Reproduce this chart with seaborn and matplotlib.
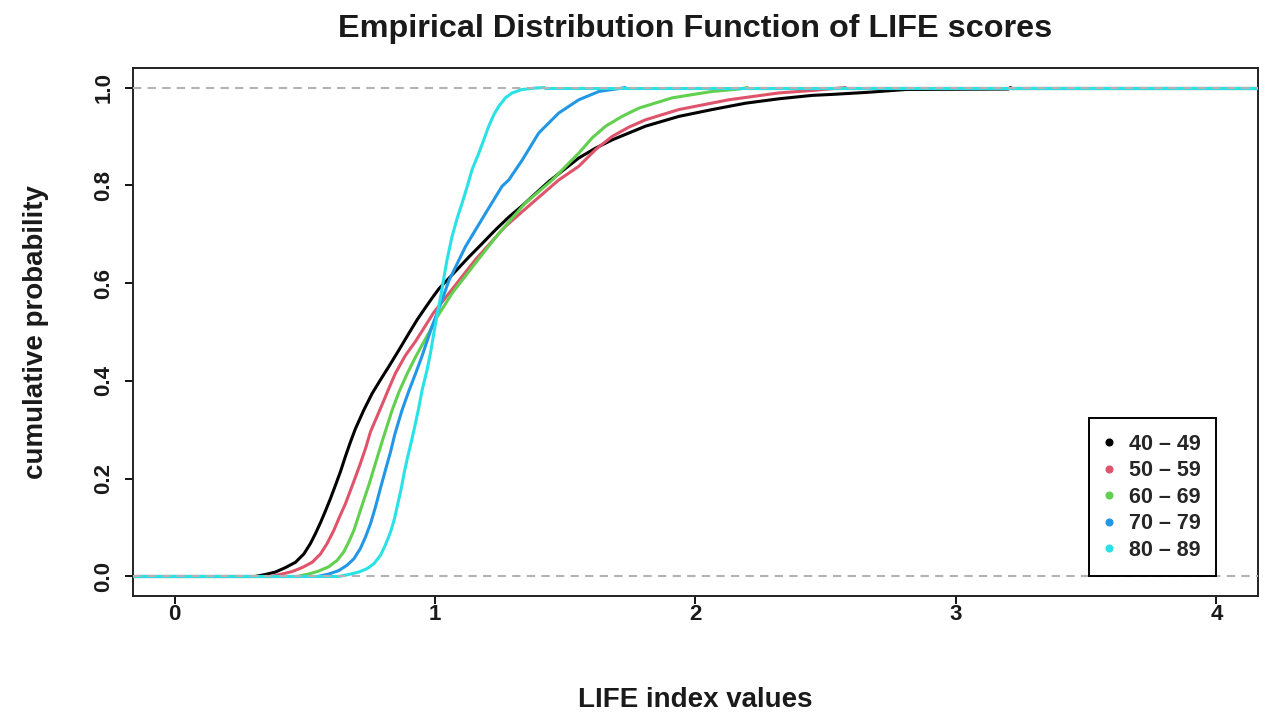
import matplotlib
matplotlib.use("Agg")
import numpy as np
import pandas as pd
import seaborn as sns
import matplotlib.pyplot as plt
from matplotlib.lines import Line2D

# Age groups and their colours
groups = ["40 – 49", "50 – 59", "60 – 69", "70 – 79", "80 – 89"]
colors = ["#000000", "#DF536B", "#61D04F", "#2297E6", "#28E2E5"]

# Empirical CDF of the LIFE index per age group: index value -> cumulative probability
x_40 = [0.31, 0.348, 0.387, 0.425, 0.464, 0.496, 0.521, 0.540, 0.560, 0.579, 0.598,
        0.617, 0.637, 0.656, 0.675, 0.694, 0.726, 0.758, 0.790, 0.822, 0.861, 0.899,
        0.931, 0.963, 0.988, 1.014, 1.078, 1.129, 1.181, 1.232, 1.283, 1.334, 1.373,
        1.437, 1.552, 1.616, 1.68, 1.744, 1.808, 1.872, 1.936, 2.064, 2.192, 2.32,
        2.448, 2.525, 2.654, 2.807, 3.20, 3.21]
p_40 = [0.0, 0.004, 0.009, 0.018, 0.029, 0.046, 0.067, 0.087, 0.110, 0.134, 0.159,
        0.186, 0.215, 0.246, 0.275, 0.302, 0.340, 0.374, 0.402, 0.429, 0.463, 0.497,
        0.525, 0.550, 0.569, 0.588, 0.624, 0.653, 0.681, 0.709, 0.735, 0.758, 0.777,
        0.808, 0.856, 0.876, 0.893, 0.907, 0.921, 0.931, 0.941, 0.955, 0.968, 0.977,
        0.984, 0.986, 0.990, 0.996, 0.997, 1.0]

x_50 = [0.37, 0.412, 0.451, 0.489, 0.528, 0.560, 0.585, 0.611, 0.630, 0.656, 0.675,
        0.694, 0.713, 0.733, 0.752, 0.797, 0.822, 0.848, 0.886, 0.925, 0.95, 0.995,
        1.053, 1.155, 1.27, 1.373, 1.475, 1.552, 1.616, 1.68, 1.744, 1.808, 1.936,
        2.128, 2.32, 2.448, 2.576]
p_50 = [0.0, 0.005, 0.010, 0.018, 0.029, 0.046, 0.067, 0.094, 0.118, 0.149, 0.176,
        0.203, 0.231, 0.262, 0.296, 0.352, 0.384, 0.416, 0.452, 0.481, 0.502, 0.540,
        0.579, 0.648, 0.716, 0.764, 0.811, 0.839, 0.873, 0.900, 0.919, 0.934, 0.955,
        0.975, 0.989, 0.994, 1.0]

x_60 = [0.47, 0.515, 0.553, 0.592, 0.624, 0.649, 0.668, 0.688, 0.707, 0.726, 0.745,
        0.765, 0.784, 0.799, 0.835, 0.861, 0.893, 0.925, 0.957, 0.982, 1.001, 1.065,
        1.155, 1.245, 1.347, 1.45, 1.552, 1.603, 1.655, 1.718, 1.783, 1.911, 2.064,
        2.167, 2.2]
p_60 = [0.0, 0.005, 0.011, 0.020, 0.033, 0.050, 0.070, 0.094, 0.125, 0.156, 0.186,
        0.221, 0.254, 0.280, 0.340, 0.377, 0.415, 0.449, 0.480, 0.504, 0.525, 0.579,
        0.641, 0.702, 0.764, 0.811, 0.866, 0.897, 0.921, 0.941, 0.958, 0.979, 0.992,
        0.997, 1.0]

x_70 = [0.55, 0.592, 0.630, 0.662, 0.688, 0.713, 0.733, 0.752, 0.771, 0.790, 0.809,
        0.829, 0.846, 0.873, 0.899, 0.925, 0.95, 0.988, 1.027, 1.053, 1.117, 1.194,
        1.257, 1.283, 1.335, 1.398, 1.475, 1.552, 1.629, 1.706, 1.73]
p_70 = [0.0, 0.005, 0.012, 0.023, 0.036, 0.057, 0.081, 0.108, 0.142, 0.180, 0.217,
        0.255, 0.292, 0.340, 0.379, 0.415, 0.451, 0.511, 0.566, 0.605, 0.675, 0.743,
        0.798, 0.811, 0.852, 0.907, 0.948, 0.975, 0.992, 0.998, 1.0]

x_80 = [0.63, 0.668, 0.707, 0.739, 0.765, 0.790, 0.809, 0.829, 0.844, 0.857, 0.870,
        0.882, 0.895, 0.908, 0.920, 0.937, 0.95, 0.969, 0.982, 0.995, 1.008, 1.021,
        1.027, 1.046, 1.065, 1.085, 1.104, 1.123, 1.142, 1.168, 1.187, 1.206, 1.226,
        1.245, 1.270, 1.296, 1.334, 1.386, 1.42]
p_80 = [0.0, 0.004, 0.009, 0.016, 0.026, 0.043, 0.064, 0.091, 0.118, 0.149, 0.180,
        0.214, 0.245, 0.274, 0.302, 0.344, 0.381, 0.422, 0.456, 0.497, 0.536, 0.571,
        0.590, 0.648, 0.695, 0.733, 0.764, 0.797, 0.832, 0.866, 0.893, 0.921, 0.945,
        0.962, 0.979, 0.989, 0.996, 0.999, 1.0]

x_ticks = [0, 1, 2, 3, 4]
y_ticks = [0.0, 0.2, 0.4, 0.6, 0.8, 1.0]

xs_all = [x_40, x_50, x_60, x_70, x_80]
ps_all = [p_40, p_50, p_60, p_70, p_80]

df = pd.concat(
    [pd.DataFrame({"x": xs, "p": ps, "group": g}) for g, xs, ps in zip(groups, xs_all, ps_all)],
    ignore_index=True,
)

sns.set_theme(style="ticks")
plt.rcParams["font.family"] = ["Liberation Sans", "DejaVu Sans"]
plt.rcParams["font.weight"] = "bold"
plt.rcParams["axes.labelweight"] = "bold"

fig = plt.figure(figsize=(12.66, 7.13), dpi=100)
ax = fig.add_axes([133 / 1266, 1 - 596 / 713, (1258 - 133) / 1266, (596 - 68) / 713])

# axis range padded by 4% as in base graphics
xmin, xmax = min(x_ticks), max(x_ticks)
pad = 0.04 * (xmax - xmin)
xlim = (xmin - pad, xmax + pad)
ax.set_xlim(*xlim)
ax.set_ylim(-0.04, 1.04)

LW = 2.2
palette = dict(zip(groups, colors))
for i, (g, xs, ps) in enumerate(zip(groups, xs_all, ps_all)):
    sub = df[df["group"] == g]
    sns.lineplot(data=sub, x="x", y="p", color=palette[g], estimator=None, sort=False,
                 lw=LW, legend=False, ax=ax, zorder=3 + i)
    # flat parts of the step function outside the observed range
    ax.hlines(ps[0], xlim[0], xs[0], color=palette[g], lw=LW, zorder=3 + i)
    ax.hlines(ps[-1], xs[-1], xlim[1], color=palette[g], lw=LW, zorder=3 + i)

for h in (0, 1):
    ax.axhline(h, color="#B3B3B3", lw=1.5, ls=(0, (4, 3)), zorder=10)

ax.set_xticks(x_ticks)
ax.set_xticklabels([str(t) for t in x_ticks])
ax.set_yticks(y_ticks)
ax.set_yticklabels([f"{t:.1f}" for t in y_ticks], rotation=90, va="center")
ax.tick_params(axis="both", direction="out", length=5.5, width=1.3, labelsize=16,
               color="black", labelcolor="#1a1a1a", bottom=True, left=True)
ax.tick_params(axis="x", pad=0)
ax.tick_params(axis="y", pad=8)
for s in ax.spines.values():
    s.set_visible(True)
    s.set_color("#222222")
    s.set_linewidth(1.4)

ax.set_xlabel("LIFE index values", fontsize=20, fontweight="bold", labelpad=45, color="#1a1a1a")
ax.set_ylabel("cumulative probability", fontsize=20, fontweight="bold", labelpad=32, color="#1a1a1a")
ax.set_title("Empirical Distribution Function of LIFE scores", fontsize=23.3,
             fontweight="bold", pad=22, color="#1a1a1a")

handles = [Line2D([], [], marker="o", linestyle="none", markersize=4.8,
                  markerfacecolor=c, markeredgecolor=c) for c in colors]
leg = ax.legend(handles, groups, loc="lower right", bbox_to_anchor=(4, 0),
                bbox_transform=ax.transData, prop={"size": 15.5, "weight": "bold"},
                frameon=True, fancybox=False, edgecolor="black", framealpha=1,
                borderpad=0.74, labelspacing=0.25, handlelength=0.37, handletextpad=0.74,
                borderaxespad=0)
leg.get_frame().set_linewidth(1.4)
leg.set_zorder(20)

fig.savefig("out.png", dpi=100, facecolor="white")
